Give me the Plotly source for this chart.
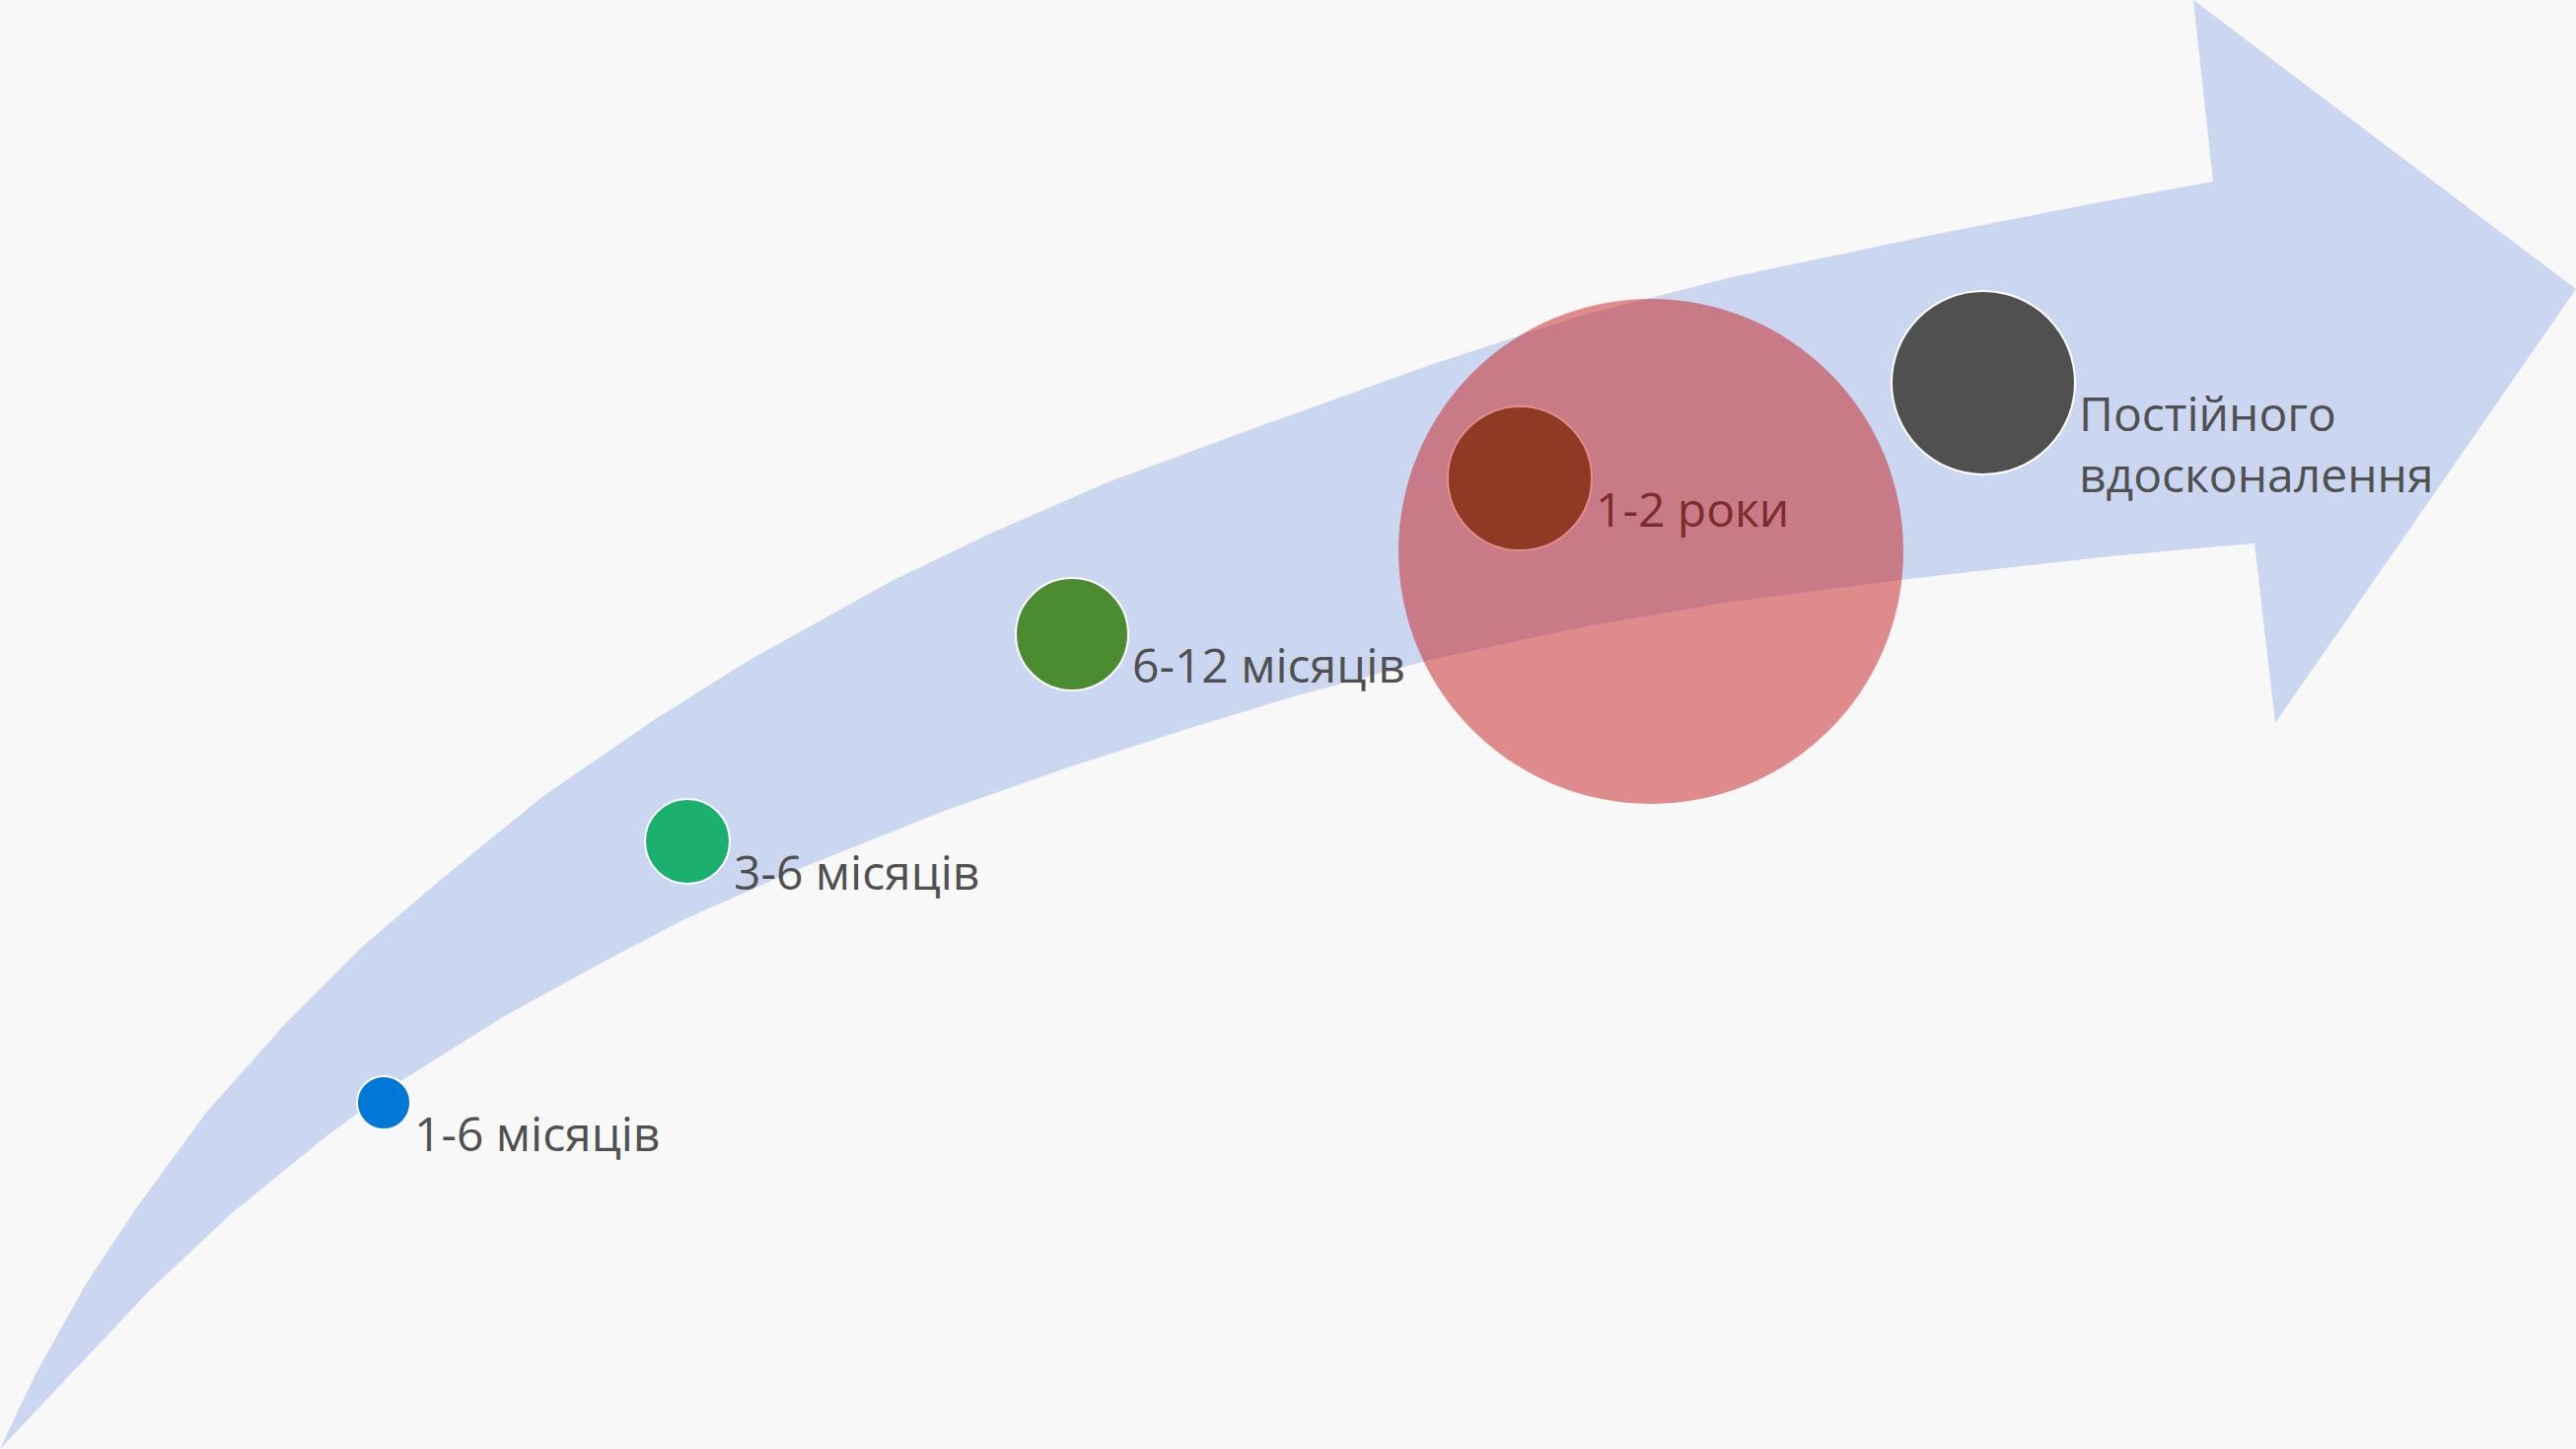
import plotly.graph_objects as go

W, H = 2612, 1469

# Arrow outline (pixel-space coordinates)
arrow_upper_x = [0, 36, 87, 138, 209, 291, 367, 449, 551, 663, 760, 904, 1006, 1123, 1261, 1389, 1450, 1603, 1756, 1960, 2113, 2244]
arrow_upper_y = [1469, 1393, 1302, 1225, 1128, 1036, 960, 890, 807, 730, 669, 589, 540, 489, 438, 392, 370, 320, 281, 238, 208, 184]
head_x = [2224, 2612, 2307]
head_y = [0, 293, 733]
arrow_lower_x = [0, 66, 153, 235, 327, 408, 510, 612, 694, 800, 955, 1083, 1210, 1312, 1450, 1603, 1756, 1935, 2139, 2250, 2286]
arrow_lower_y = [1469, 1399, 1307, 1230, 1155, 1095, 1031, 975, 932, 885, 823, 778, 737, 706, 669, 636, 610, 587, 564, 554, 551]

# Milestones
labels = ["1-6 місяців", "3-6 місяців", "6-12 місяців", "1-2 роки", "Постійного<br>вдосконалення"]
circle_x = [389, 697, 1087, 1541, 2011]
circle_y = [1118, 853, 643, 485, 388]
circle_d = [54, 86, 114, 146, 186]
circle_colors = ["#0078D7", "#1BB070", "#4A8C2F", "#8E3A25", "#505050"]
circle_lines = ["white", "white", "white", "#E38E8E", "white"]
label_colors = ["#505050", "#505050", "#505050", "#7B2D2D", "#505050"]

# Large highlight bubble
big_x = [1674]
big_y = [559]
big_d = [512]

arrow_color = "#CBD7F0"
bg = "#F8F8F8"

fig = go.Figure()

poly_x = arrow_upper_x + head_x + arrow_lower_x[::-1]
poly_y = arrow_upper_y + head_y + arrow_lower_y[::-1]
fig.add_trace(go.Scatter(x=poly_x, y=poly_y, mode="lines", fill="toself",
                         fillcolor=arrow_color, line=dict(width=0, color=arrow_color, simplify=False),
                         hoverinfo="skip", showlegend=False))

fig.add_trace(go.Scatter(x=big_x, y=big_y, mode="markers",
                         marker=dict(size=big_d, sizemode="diameter", color="rgb(200,30,30)",
                                     opacity=0.5, line=dict(width=0)),
                         hoverinfo="skip", showlegend=False))

fig.add_trace(go.Scatter(x=circle_x, y=circle_y, mode="markers",
                         marker=dict(size=circle_d, sizemode="diameter", color=circle_colors,
                                     line=dict(width=2, color=circle_lines), opacity=1),
                         hoverinfo="skip", showlegend=False))

for lab, x, y, d, c in zip(labels, circle_x, circle_y, circle_d, label_colors):
    fig.add_annotation(x=x + d / 2 + 2, y=y - 4, text=lab, showarrow=False,
                       xanchor="left", yanchor="top", align="left",
                       font=dict(family="Open Sans, Noto Sans, sans-serif", size=48, color=c))

fig.update_layout(
    width=W, height=H,
    margin=dict(l=0, r=0, t=0, b=0),
    paper_bgcolor=bg, plot_bgcolor=bg,
    xaxis=dict(range=[0, W], visible=False, fixedrange=True),
    yaxis=dict(range=[H, 0], visible=False, fixedrange=True),
    showlegend=False,
)

fig.write_html("out.html", config={"displayModeBar": False},
               post_script="document.body.style.margin='0';document.body.style.overflow='hidden';")
